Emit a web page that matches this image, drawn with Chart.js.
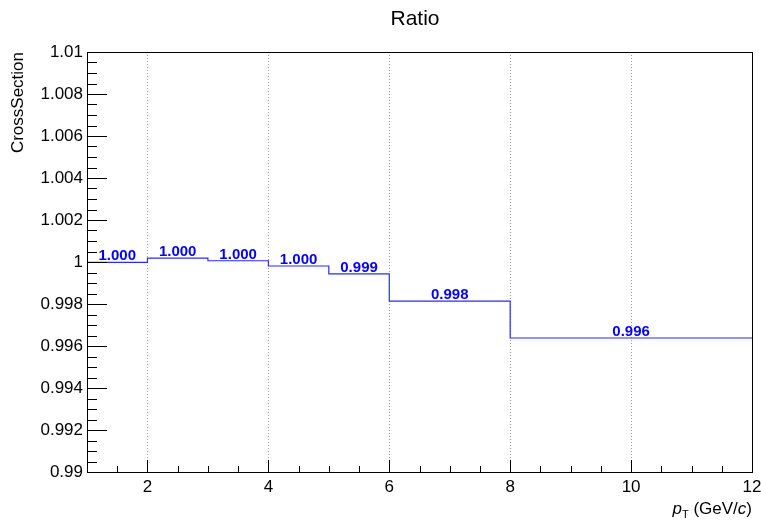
<!DOCTYPE html>
<html>
<head>
<meta charset="utf-8">
<script src="https://cdn.jsdelivr.net/npm/chart.js@4.4.1/dist/chart.umd.min.js"></script>
<style>
  html, body { margin: 0; padding: 0; background: #fff; }
  #wrap { width: 761px; height: 521px; }
</style>
</head>
<body>
<div id="wrap"><canvas id="ratioChart" width="761" height="521"></canvas></div>
<script>
// bin edges in pT and ratio per bin
var binEdges = [1, 2, 3, 4, 5, 6, 8, 12];
var ratioValues = [0.99998, 1.00018, 1.00006, 0.99981, 0.99943, 0.99814, 0.99638];
var binLabels = ['1.000', '1.000', '1.000', '1.000', '0.999', '0.998', '0.996'];
var xTicks = [2, 4, 6, 8, 10, 12];
var yTicks = [0.99, 0.992, 0.994, 0.996, 0.998, 1, 1.002, 1.004, 1.006, 1.008, 1.01];

var FONT = '"Liberation Sans", Arial, Helvetica, sans-serif';

// step points: one at each lower edge, plus the last upper edge
var stepPoints = [];
for (var i = 0; i < ratioValues.length; i++) {
    stepPoints.push({ x: binEdges[i], y: ratioValues[i] });
}
stepPoints.push({ x: binEdges[binEdges.length - 1], y: ratioValues[ratioValues.length - 1] });

// frame, inner ticks, titles and bin value labels
var rootStyle = {
    id: 'rootStyle',
    afterDraw: function(chart) {
        var c = chart.ctx;
        var a = chart.chartArea;
        var xs = chart.scales.x, ys = chart.scales.y;
        c.save();

        // bin value labels
        c.fillStyle = '#0000ff';
        c.font = 'bold 15px ' + FONT;
        c.textAlign = 'center';
        c.textBaseline = 'alphabetic';
        for (var i = 0; i < ratioValues.length; i++) {
            var cx = xs.getPixelForValue((binEdges[i] + binEdges[i + 1]) / 2);
            var cy = ys.getPixelForValue(ratioValues[i]);
            c.fillText(binLabels[i], cx, cy - 2);
        }

        // frame
        c.strokeStyle = '#000';
        c.lineWidth = 1;
        c.strokeRect(Math.round(a.left) + 0.5, Math.round(a.top) + 0.5,
                     Math.round(a.right - a.left), Math.round(a.bottom - a.top));

        // x ticks (inside, from bottom)
        c.beginPath();
        for (var v = 1.5; v < 12; v += 0.5) {
            var px = Math.round(xs.getPixelForValue(v)) + 0.5;
            var len = (v % 2 === 0) ? 12 : 6;
            c.moveTo(px, a.bottom);
            c.lineTo(px, a.bottom - len);
        }
        // y ticks (inside, from left)
        for (var k = 1; k < 40; k++) {
            var val = 0.99 + k * 0.0005;
            var py = Math.round(ys.getPixelForValue(val)) + 0.5;
            var l = (k % 4 === 0) ? 20 : 10;
            c.moveTo(a.left, py);
            c.lineTo(a.left + l, py);
        }
        c.stroke();

        // title
        c.fillStyle = '#000';
        c.font = '21px ' + FONT;
        c.textAlign = 'center';
        c.textBaseline = 'middle';
        c.fillText('Ratio', 415, 19);

        // y title
        c.save();
        c.translate(18, a.top);
        c.rotate(-Math.PI / 2);
        c.font = '17px ' + FONT;
        c.textAlign = 'right';
        c.textBaseline = 'middle';
        c.fillText('CrossSection', 0, 0);
        c.restore();

        // x title: p_T (GeV/c)
        var base = 514;
        var right = a.right;
        c.textBaseline = 'alphabetic';
        c.textAlign = 'left';
        var fNorm = '17px ' + FONT, fIt = 'italic 17px ' + FONT, fSub = '11px ' + FONT;
        var parts = [
            { t: 'p', f: fIt, dy: 0 },
            { t: 'T', f: fSub, dy: 4 },
            { t: ' (GeV/', f: fNorm, dy: 0 },
            { t: 'c', f: fIt, dy: 0 },
            { t: ')', f: fNorm, dy: 0 }
        ];
        var total = 0;
        parts.forEach(function(p) { c.font = p.f; p.w = c.measureText(p.t).width; total += p.w; });
        var x0 = right - total;
        parts.forEach(function(p) { c.font = p.f; c.fillText(p.t, x0, base + p.dy); x0 += p.w; });

        c.restore();
    }
};

var ctx = document.getElementById('ratioChart').getContext('2d');
var ratioChart = new Chart(ctx, {
    type: 'line',
    data: {
        datasets: [{
            data: stepPoints,
            stepped: 'before',
            borderColor: '#2b2bff',
            borderWidth: 1.2,
            pointRadius: 0,
            fill: false
        }]
    },
    options: {
        responsive: false,
        animation: false,
        layout: { padding: { left: 0, right: 9, top: 52, bottom: 0 } },
        plugins: {
            legend: { display: false },
            title: { display: false },
            tooltip: { enabled: false }
        },
        scales: {
            x: {
                type: 'linear',
                min: 1,
                max: 12,
                afterBuildTicks: function(scale) {
                    scale.ticks = xTicks.map(function(v) { return { value: v }; });
                },
                afterFit: function(scale) {
                    scale.height = 49;
                    scale.paddingLeft = 0;
                    scale.paddingRight = 0;
                },
                border: { display: false, dash: [1, 2] },
                grid: {
                    drawTicks: false,
                    lineWidth: 1,
                    tickBorderDash: [1, 2],
                    color: function(c) { return c.tick && c.tick.value < 12 ? '#9a9a9a' : 'rgba(0,0,0,0)'; }
                },
                ticks: {
                    padding: 5,
                    maxRotation: 0,
                    color: '#000',
                    font: { family: FONT, size: 17 },
                    callback: function(v) { return String(v); }
                }
            },
            y: {
                type: 'linear',
                min: 0.99,
                max: 1.01,
                afterBuildTicks: function(scale) {
                    scale.ticks = yTicks.map(function(v) { return { value: v }; });
                },
                afterFit: function(scale) {
                    scale.width = 87;
                    scale.paddingTop = 0;
                    scale.paddingBottom = 0;
                },
                border: { display: false },
                grid: { display: false, drawTicks: false },
                ticks: {
                    padding: 4,
                    color: '#000',
                    font: { family: FONT, size: 17 },
                    callback: function(v) { return String(Number(Number(v).toFixed(3))); }
                }
            }
        }
    },
    plugins: [rootStyle]
});
</script>
</body>
</html>
